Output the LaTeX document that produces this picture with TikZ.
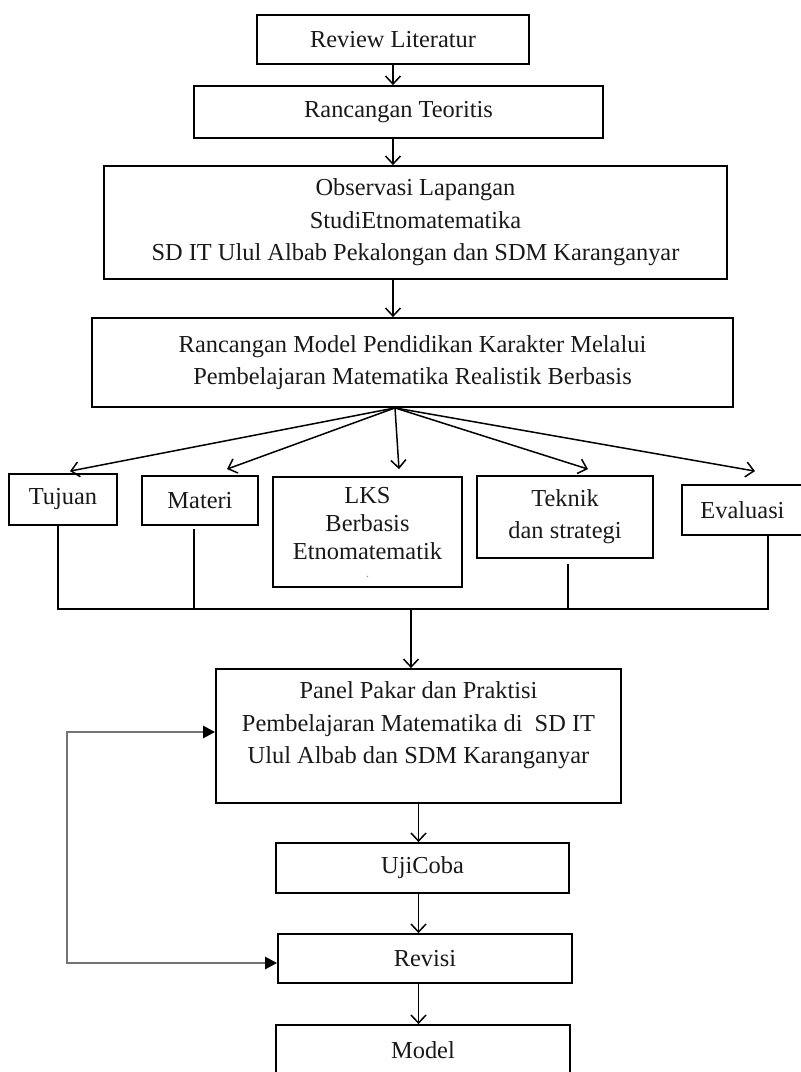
\documentclass[tikz,border=0pt]{standalone}
\usepackage{fontspec}
\setmainfont{Liberation Serif}
\usetikzlibrary{arrows.meta,calc}
\begin{document}
\begin{tikzpicture}[x=1pt,y=-1pt,
  box/.style={draw, line width=1.8pt, rectangle, inner sep=0pt, align=center,
    text=black!90, font=\fontsize{24.4}{32.5}\selectfont},
  arr/.style={line width=1.5pt, -{Straight Barb[length=8pt,width=15pt,line width=1.5pt]}},
  link/.style={line width=1.7pt},
  fb/.style={line width=2.6pt, draw=black!55,
    {Triangle[length=12pt,width=12pt,color=black]}-{Triangle[length=12pt,width=12pt,color=black]}}]
\useasboundingbox (0,0) rectangle (801,1072);

% top chain
\node[box, minimum width=272, minimum height=49] (rl) at (393,39.5) {Review Literatur};
\node[box, minimum width=409, minimum height=52] (rt) at (398.5,112) {Rancangan Teoritis};
\node[box, minimum width=623, minimum height=113] (obs) at (415.5,222.5)
  {Observasi Lapangan\\StudiEtnomatematika\\SD IT Ulul Albab Pekalongan dan SDM Karanganyar};
\node[box, minimum width=641, minimum height=89] (rm) at (412.5,362.5)
  {Rancangan Model Pendidikan Karakter Melalui\\Pembelajaran Matematika Realistik Berbasis};

\draw[arr] (rl.south) -- (rl.south |- rt.north);
\draw[arr] (rt.south -| rl.south) -- (rl.south |- obs.north);
\draw[arr] (obs.south -| rl.south) -- (rl.south |- rm.north);

% components
\node[box, minimum width=108, minimum height=51] (tuj) at (63,499.5) {Tujuan};
\node[box, minimum width=116, minimum height=49] (mat) at (200,500.5) {Materi};
\node[box, minimum width=189, minimum height=110, font=\fontsize{24.4}{28}\selectfont] (lks) at (367.5,532)
  {LKS\\Berbasis\\Etnomatematik\\[-10pt]{\fontsize{12}{12}\selectfont\color{black!45}.}};
\node[box, minimum width=176, minimum height=82, font=\fontsize{24.4}{32}\selectfont] (tek) at (565,517)
  {Teknik\\dan strategi};
\node[box, minimum width=121, minimum height=50] (eva) at (742.5,510) {Evaluasi};

\coordinate (fan) at ([xshift=-17.5pt]rm.south);
\draw[arr] (fan) -- ([xshift=7pt,yshift=2pt]tuj.north);
\draw[arr] (fan) -- ([xshift=27pt,yshift=6pt]mat.north);
\draw[arr] (fan) -- ([xshift=31.5pt,yshift=7pt]lks.north);
\draw[arr] (fan) -- ([xshift=23pt,yshift=6pt]tek.north);
\draw[arr] (fan) -- ([xshift=12.5pt,yshift=13pt]eva.north);

% collecting bus
\coordinate (b1) at (58,609);
\coordinate (b2) at (194,609);
\coordinate (b3) at (411,609);
\coordinate (b4) at (568,609);
\coordinate (b5) at (768,609);
\draw[link] (tuj.south -| b1) -- (b1);
\draw[link] ([yshift=-3pt]mat.south -| b2) -- (b2);
\draw[link] ([yshift=-5pt]tek.south -| b4) -- (b4);
\draw[link] (eva.south -| b5) -- (b5);
\draw[link] ([xshift=-1pt]b1) -- ([xshift=0.8pt]b5);

% panel and bottom chain
\node[box, minimum width=405, minimum height=134] (pan) at (418.5,736)
  {\raisebox{11.5pt}[\height][\depth]{\begin{tabular}{@{}c@{}}Panel Pakar dan Praktisi\\Pembelajaran Matematika di\ \ SD IT\\Ulul Albab dan SDM Karanganyar\end{tabular}}};
\draw[arr] (b3) -- (b3 |- pan.north);

\node[box, minimum width=293, minimum height=50] (uji) at (422.5,868) {UjiCoba};
\node[box, minimum width=294, minimum height=49] (rev) at (425,958.5) {Revisi};
\node[box, minimum width=294, minimum height=50] (mod) at (423,1050) {Model};

\draw[arr] (pan.south) -- (pan.south |- uji.north);
\draw[arr] (uji.south -| pan.south) -- (pan.south |- rev.north);
\draw[arr] (rev.south -| pan.south) -- (pan.south |- mod.north);

% feedback loop
\coordinate (lc) at (67,732);
\draw[fb] ([yshift=-4.5pt]rev.west) -| (lc) -- (lc -| pan.west);
\end{tikzpicture}
\end{document}
